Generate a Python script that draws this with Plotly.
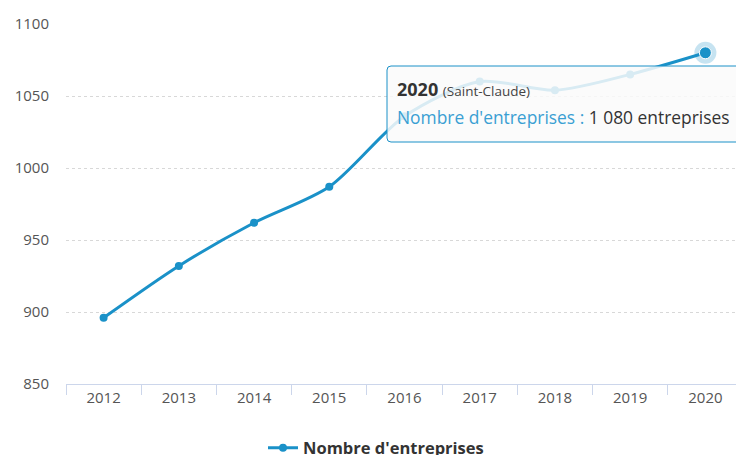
import plotly.graph_objects as go

years = ["2012", "2013", "2014", "2015", "2016", "2017", "2018", "2019", "2020"]
entreprises = [896, 932, 962, 987, 1036, 1060, 1054, 1065, 1080]
series_name = "Nombre d'entreprises"
y_ticks = [850, 900, 950, 1000, 1050, 1100]

COLOR = "#1a91c8"
FONT = "Open Sans"

fig = go.Figure()
fig.add_trace(go.Scatter(
    x=years, y=entreprises, name=series_name, mode="lines+markers",
    line=dict(color=COLOR, width=3, shape="spline", smoothing=0.8),
    marker=dict(color=COLOR, size=8),
))
# hover halo on last point
fig.add_trace(go.Scatter(
    x=[years[-1]], y=[entreprises[-1]], mode="markers", showlegend=False,
    marker=dict(color="rgba(26,145,200,0.25)", size=22, line=dict(width=0)),
    hoverinfo="skip",
))
fig.add_trace(go.Scatter(
    x=[years[-1]], y=[entreprises[-1]], mode="markers", showlegend=False,
    marker=dict(color=COLOR, size=12, line=dict(color="white", width=1)),
    hoverinfo="skip",
))

# tooltip box (paper coords; plot area 677x360 px)
PW, PH = 677, 360
x0, x1 = (387 - 66) / PW, 1.02
y1, y0 = (384 - 66) / PH, (384 - 142) / PH
r = 4 / PW
ry = 4 / PH
path = (f"M {x0+r},{y1} L {x1},{y1} L {x1},{y0} L {x0+r},{y0} "
        f"Q {x0},{y0} {x0},{y0+ry} L {x0},{y1-ry} Q {x0},{y1} {x0+r},{y1} Z")
fig.add_shape(type="path", path=path, xref="paper", yref="paper",
              fillcolor="rgba(250,250,250,0.85)", line=dict(color=COLOR, width=1),
              layer="above")
fig.add_annotation(
    xref="paper", yref="paper", x=(395 - 66) / PW, y=(384 - 89) / PH,
    xanchor="left", yanchor="middle", showarrow=False, align="left",
    text=f"<b>{years[-1]}</b> <span style='font-size:13.5px;color:#444'>(Saint-Claude)</span>",
    font=dict(family=FONT, size=18, color="#333333"),
)
fig.add_annotation(
    xref="paper", yref="paper", x=(395 - 66) / PW, y=(384 - 117) / PH,
    xanchor="left", yanchor="middle", showarrow=False, align="left",
    text=f"<span style='color:#3a9fd3'>{series_name} : </span>1 080 entreprises",
    font=dict(family=FONT, size=17.4, color="#333333"),
)

# page body has an 8px margin; figure is drawn from (8,8)
fig.update_layout(
    width=736, height=447,
    margin=dict(l=58, r=1, t=16, b=71),
    paper_bgcolor="white", plot_bgcolor="white",
    font=dict(family=FONT, color="#666666", size=14),
    showlegend=True,
    legend=dict(orientation="h", xref="container", yref="container",
                x=0.5, xanchor="center", y=(447 - 440) / 447, yanchor="middle",
                font=dict(family=FONT, size=16.5, color="#333333", weight="bold"),
                itemwidth=30),
    hovermode=False,
)
fig.update_xaxes(
    type="category", range=[-0.5, 8.5],
    showline=True, linecolor="#ccd6eb", linewidth=1,
    ticks="outside", tickson="boundaries", ticklen=10, tickcolor="#ccd6eb",
    showgrid=False, tickfont=dict(size=15, color="#555555"),
)
fig.update_yaxes(
    range=[850, 1100], tickvals=y_ticks,
    showgrid=True, gridcolor="#d8d8d8", griddash="dot", gridwidth=1,
    zeroline=False, showline=False, ticks="", ticklabelstandoff=16,
    tickfont=dict(size=15, color="#555555"),
)

fig.write_html("out.html")
